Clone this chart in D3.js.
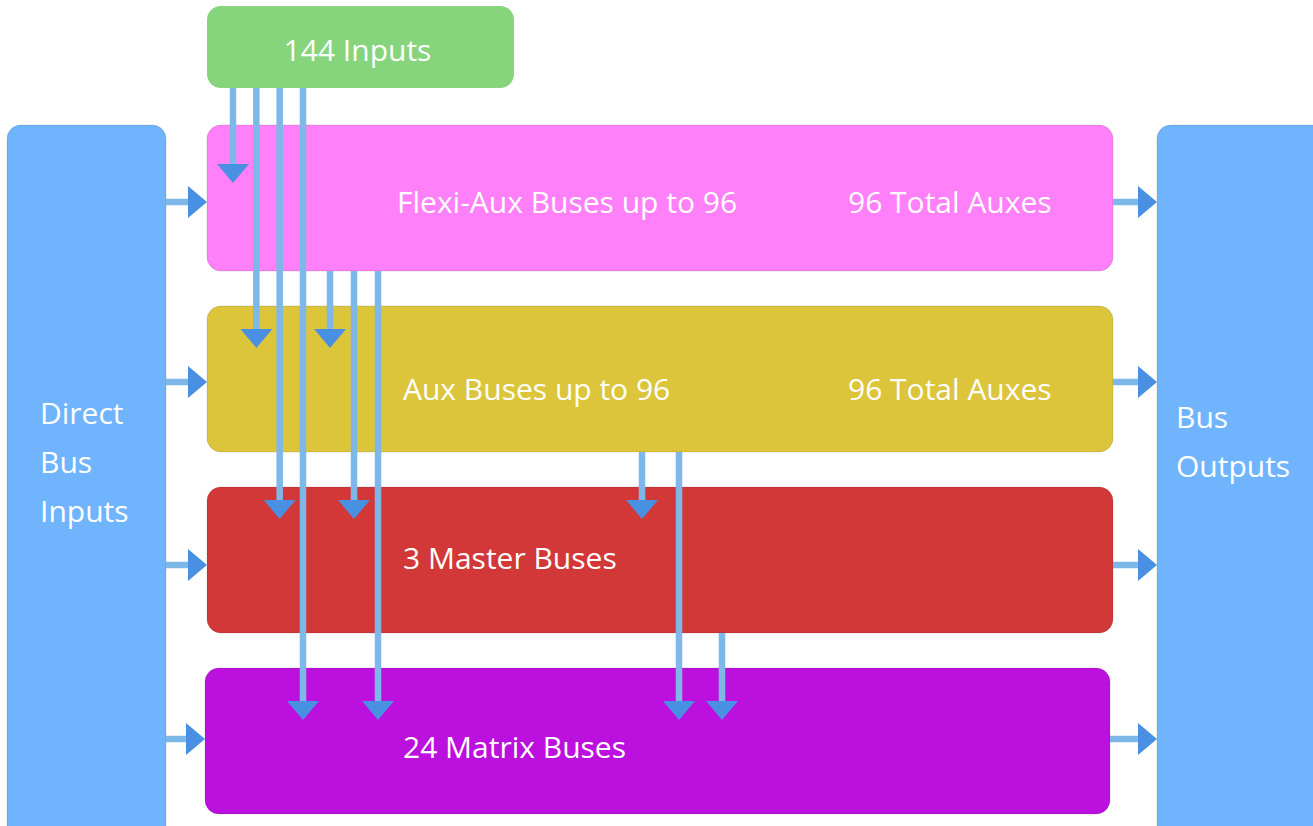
<!DOCTYPE html>
<html>
<head>
<meta charset="utf-8">
<script src="https://cdn.jsdelivr.net/npm/d3@7"></script>
<style>
  body { margin: 0; background: #fff; }
  svg { display: block; }
</style>
</head>
<body>
<div id="chart"></div>
<script>
// bus rows, top to bottom
const buses = ['flexi', 'aux', 'master', 'matrix'];
const busLabels = ['Flexi-Aux Buses up to 96', 'Aux Buses up to 96', '3 Master Buses', '24 Matrix Buses'];
const busNotes = ['96 Total Auxes', '96 Total Auxes', '', ''];
const busColors = ['#ff80f8', '#dcc53a', '#d33838', '#bb10de'];

const inputLabel = '144 Inputs';
const leftLabel = ['Direct', 'Bus', 'Inputs'];
const rightLabel = ['Bus', 'Outputs'];

// routing: source -> target, in lane order per source
const links = [
  { from: 'inputs', to: 'flexi' },
  { from: 'inputs', to: 'aux' },
  { from: 'inputs', to: 'master' },
  { from: 'inputs', to: 'matrix' },
  { from: 'flexi', to: 'aux' },
  { from: 'flexi', to: 'master' },
  { from: 'flexi', to: 'matrix' },
  { from: 'aux', to: 'master' },
  { from: 'aux', to: 'matrix' },
  { from: 'master', to: 'matrix' }
];

const W = 1313, H = 826;
const svg = d3.select('#chart').append('svg').attr('width', W).attr('height', H);

const font = '"Open Sans", "Source Sans Pro", sans-serif';
const fontSize = '30px';
const lineColor = '#7db8e8';
const headColor = '#4a90e2';

// row scale
const y = d3.scaleBand().domain(buses).range([125, 125 + 3 * 181 + 146]).paddingInner(35 / 181).paddingOuter(0);
const boxX0 = 207, boxX1 = 1113;

// small per-row nudges, as in the original drawing
const textShift = { flexi: 4, aux: 10, master: -2, matrix: 6 };
const arrowShift = { flexi: 4, aux: 3, master: 5, matrix: -2 };

// input box
const inBox = { x: 207, y: 6, w: 307, h: 82 };

// lane positions per source
const lanes = {
  inputs: d3.scaleLinear().domain([0, 3]).range([233, 303]),
  flexi: d3.scaleLinear().domain([0, 2]).range([330, 378]),
  aux: d3.scaleLinear().domain([0, 1]).range([642, 679]),
  master: d3.scaleLinear().domain([0, 1]).range([722, 760])
};
// how far into the target box each arrow reaches
const tipDepth = { flexi: 58, aux: 42, master: 32, matrix: 52 };

const headW = 32, headH = 19, stroke = 6.5;

function bottomOf(src) {
  return src === 'inputs' ? inBox.y + inBox.h : y(src) + y.bandwidth();
}

function label(sel) {
  return sel.style('font-family', font).style('font-size', fontSize).attr('fill', '#fff');
}

// side panels
svg.append('rect').attr('x', 7).attr('y', 125).attr('width', 159).attr('height', 760)
  .attr('rx', 14).attr('fill', '#70b4fe').attr('stroke', 'rgba(0,0,0,0.12)');
svg.append('rect').attr('x', 1157).attr('y', 125).attr('width', 200).attr('height', 760)
  .attr('rx', 14).attr('fill', '#70b4fe').attr('stroke', 'rgba(0,0,0,0.12)');

// input box
svg.append('rect').attr('x', inBox.x).attr('y', inBox.y).attr('width', inBox.w).attr('height', inBox.h)
  .attr('rx', 14).attr('fill', '#86d47c');
label(svg.append('text').attr('x', inBox.x + inBox.w / 2 - 3).attr('y', inBox.y + inBox.h / 2 + 3)
  .attr('text-anchor', 'middle').attr('dy', '0.35em'))
  .text(inputLabel);

// bus boxes
const rows = svg.append('g').selectAll('g').data(buses).join('g');
rows.append('rect')
  .attr('x', (d, i) => i === 3 ? boxX0 - 2 : boxX0)
  .attr('y', d => y(d))
  .attr('width', (d, i) => i === 3 ? boxX1 - boxX0 - 1 : boxX1 - boxX0)
  .attr('height', y.bandwidth())
  .attr('rx', 14)
  .attr('fill', (d, i) => busColors[i])
  .attr('stroke', 'rgba(0,0,0,0.12)');
label(rows.append('text')
  .attr('x', (d, i) => i === 0 ? 397 : 403)
  .attr('y', d => y(d) + y.bandwidth() / 2 + textShift[d])
  .attr('dy', '0.35em'))
  .text((d, i) => busLabels[i]);
label(rows.append('text')
  .attr('x', 848)
  .attr('y', d => y(d) + y.bandwidth() / 2 + textShift[d])
  .attr('dy', '0.35em'))
  .text((d, i) => busNotes[i]);

// horizontal arrows in and out
const arrowG = svg.append('g');
function hArrow(x0, x1, yy) {
  arrowG.append('line').attr('x1', x0).attr('x2', x1 - headH).attr('y1', yy).attr('y2', yy)
    .attr('stroke', lineColor).attr('stroke-width', stroke);
  arrowG.append('path')
    .attr('d', `M${x1 - headH},${yy - headW / 2}L${x1},${yy}L${x1 - headH},${yy + headW / 2}Z`)
    .attr('fill', headColor);
}
buses.forEach(b => {
  const cy = y(b) + y.bandwidth() / 2 + arrowShift[b];
  hArrow(166, b === 'matrix' ? 205 : boxX0, cy);
  hArrow(b === 'matrix' ? 1110 : boxX1, 1157, cy);
});

// vertical routing arrows
const laneCount = {};
const vG = svg.append('g');
links.forEach(l => {
  const k = laneCount[l.from] || 0;
  laneCount[l.from] = k + 1;
  const x = lanes[l.from](k);
  const tip = y(l.to) + tipDepth[l.to];
  vG.append('line').attr('x1', x).attr('x2', x).attr('y1', bottomOf(l.from)).attr('y2', tip - headH)
    .attr('stroke', lineColor).attr('stroke-width', stroke);
  vG.append('path')
    .attr('d', `M${x - headW / 2},${tip - headH}L${x},${tip}L${x + headW / 2},${tip - headH}Z`)
    .attr('fill', headColor);
});

// side labels
function sideLabel(lines, x, y0) {
  label(svg.append('g').selectAll('text').data(lines).join('text')
    .attr('x', x).attr('y', (d, i) => y0 + i * 49).attr('dy', '0.35em'))
    .text(d => d);
}
sideLabel(leftLabel, 40, 413);
sideLabel(rightLabel, 1176, 417);
</script>
</body>
</html>
